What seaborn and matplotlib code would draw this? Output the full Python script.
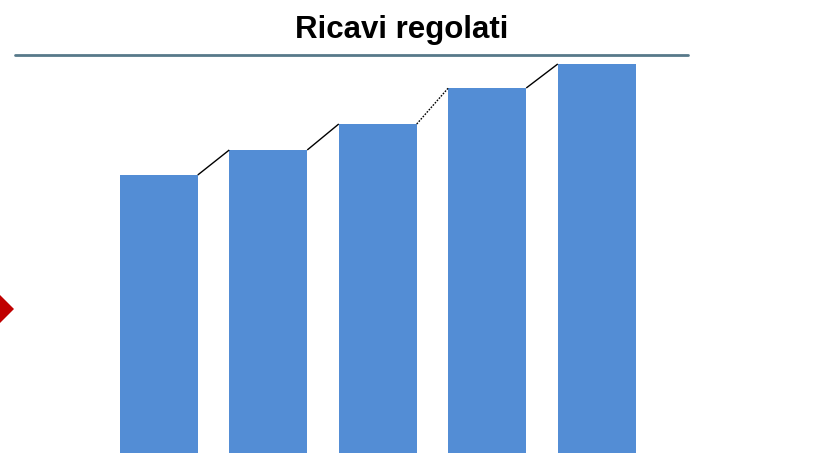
import matplotlib
matplotlib.use("Agg")
import matplotlib.pyplot as plt
import seaborn as sns
import pandas as pd
from matplotlib.patches import Polygon
from matplotlib.lines import Line2D

# Data
periods = ["P1", "P2", "P3", "P4", "P5"]
revenues = [280, 305, 331, 367, 391]
connector_styles = ["-", "-", ":", "-"]
title_text = "Ricavi regolati"

BAR_COLOR = "#538dd5"
BAR_WIDTH = 0.712

sns.set_theme(style="white")
plt.rcParams["font.family"] = ["Liberation Sans", "DejaVu Sans"]

W, H = 835, 453
fig = plt.figure(figsize=(W / 100, H / 100), dpi=100)

# Axes placed in pixel units: category spacing ~109.5 px; the baseline sits
# just below the lower figure edge so the bars run off the bottom
left_px, right_px = 104.0, 651.5
bottom_px, top_px = -2, 400
ax = fig.add_axes([left_px / W, bottom_px / H, (right_px - left_px) / W, (top_px - bottom_px) / H])

df = pd.DataFrame({"period": periods, "revenue": revenues})
sns.barplot(data=df, x="period", y="revenue", color=BAR_COLOR, saturation=1,
            width=BAR_WIDTH, linewidth=0, ax=ax)

# Connectors from the top-right corner of each bar to the top-left of the next
half = BAR_WIDTH / 2
for i, style in enumerate(connector_styles):
    ls = (0, (1.2, 1.0)) if style == ":" else style
    ax.plot([i + half, i + 1 - half], [revenues[i], revenues[i + 1]],
            color="black", lw=1.0, ls=ls, solid_capstyle="butt", clip_on=False)

ax.set_xlim(-0.5, len(periods) - 0.5)
ax.set_ylim(0, 402)
ax.axis("off")

# Title and rule beneath it
fig.text(401.5 / W, 1 - 38 / H, title_text, ha="center", va="baseline",
         fontsize=22.5, fontweight="bold", color="black")
fig.add_artist(Line2D([15 / W, 688 / W], [1 - 54.7 / H, 1 - 54.7 / H],
                      color="#57798a", lw=2.0, transform=fig.transFigure))

# Red marker at the left edge
cx, cy, r = -10, 309, 24
pts = [((cx + r) / W, 1 - cy / H), (cx / W, 1 - (cy - r) / H),
       ((cx - r) / W, 1 - cy / H), (cx / W, 1 - (cy + r) / H)]
fig.add_artist(Polygon(pts, closed=True, facecolor="#c00000", edgecolor="none",
                       transform=fig.transFigure))

fig.savefig("out.png", dpi=100)
